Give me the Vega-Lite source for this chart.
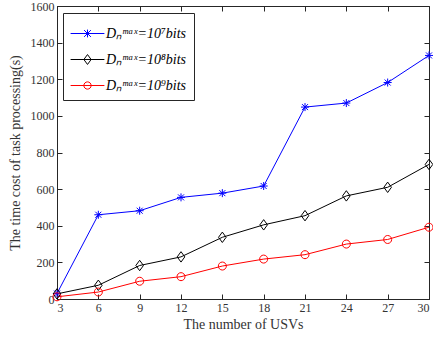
{
  "$schema": "https://vega.github.io/schema/vega-lite/v6.json",
  "width": 372,
  "height": 293,
  "autosize": {"type": "none"},
  "padding": {"left": 57, "top": 6, "right": 4, "bottom": 42},
  "background": "white",
  "config": {
    "view": {"stroke": "#262626", "strokeWidth": 1},
    "font": "Liberation Serif",
    "axis": {
      "grid": false,
      "domainColor": "#262626",
      "tickColor": "#262626",
      "labelColor": "#333333",
      "titleColor": "#333333",
      "labelFont": "Liberation Serif",
      "titleFont": "Liberation Serif",
      "labelFontSize": 12,
      "titleFontSize": 14,
      "titleFontWeight": "normal",
      "tickSize": -5,
      "labelPadding": 8,
      "format": "d"
    }
  },
  "data": {
    "values": [
      {"n": 3, "t": 30, "s": "a"},
      {"n": 6, "t": 460, "s": "a"},
      {"n": 9, "t": 482, "s": "a"},
      {"n": 12, "t": 555, "s": "a"},
      {"n": 15, "t": 578, "s": "a"},
      {"n": 18, "t": 617, "s": "a"},
      {"n": 21, "t": 1048, "s": "a"},
      {"n": 24, "t": 1070, "s": "a"},
      {"n": 27, "t": 1182, "s": "a"},
      {"n": 30, "t": 1330, "s": "a"},
      {"n": 3, "t": 28, "s": "b"},
      {"n": 6, "t": 75, "s": "b"},
      {"n": 9, "t": 183, "s": "b"},
      {"n": 12, "t": 230, "s": "b"},
      {"n": 15, "t": 337, "s": "b"},
      {"n": 18, "t": 405, "s": "b"},
      {"n": 21, "t": 455, "s": "b"},
      {"n": 24, "t": 563, "s": "b"},
      {"n": 27, "t": 610, "s": "b"},
      {"n": 30, "t": 735, "s": "b"},
      {"n": 3, "t": 12, "s": "c"},
      {"n": 6, "t": 38, "s": "c"},
      {"n": 9, "t": 97, "s": "c"},
      {"n": 12, "t": 122, "s": "c"},
      {"n": 15, "t": 180, "s": "c"},
      {"n": 18, "t": 218, "s": "c"},
      {"n": 21, "t": 242, "s": "c"},
      {"n": 24, "t": 300, "s": "c"},
      {"n": 27, "t": 325, "s": "c"},
      {"n": 30, "t": 392, "s": "c"}
    ]
  },
  "layer": [
    {
      "mark": {"type": "line", "strokeWidth": 1},
      "encoding": {
        "x": {
          "field": "n", "type": "quantitative",
          "scale": {"domain": [3, 30], "nice": false, "zero": false},
          "axis": {"values": [3, 6, 9, 12, 15, 18, 21, 24, 27, 30], "title": "The number of USVs", "titlePadding": 4}
        },
        "y": {
          "field": "t", "type": "quantitative",
          "scale": {"domain": [0, 1600], "nice": false},
          "axis": {"values": [0, 200, 400, 600, 800, 1000, 1200, 1400, 1600], "title": "The time cost of task processing(s)", "titlePadding": 8}
        },
        "color": {
          "field": "s", "type": "nominal",
          "scale": {"domain": ["a", "b", "c"], "range": ["#0000ff", "#000000", "#ff0000"]},
          "legend": {
            "orient": "none",
            "legendX": 6,
            "legendY": 7,
            "title": null,
            "strokeColor": "#262626",
            "fillColor": "white",
            "padding": 7,
            "symbolSize": 676,
            "symbolStrokeWidth": 1,
            "symbolOffset": 4,
            "labelFont": "Liberation Serif",
            "labelFontSize": 14,
            "labelFontStyle": "italic",
            "labelColor": "#000000",
            "labelOffset": 5,
            "rowPadding": 5,
            "labelExpr": "datum.value == 'a' ? 'Dₙᵐᵃˣ=10⁷bits' : datum.value == 'b' ? 'Dₙᵐᵃˣ=10⁸bits' : 'Dₙᵐᵃˣ=10⁹bits'",
            "encode": {
              "symbols": {
                "update": {
                  "shape": {"signal": "datum.value == 'a' ? 'M-1.3,0L1.3,0M0,-0.3L0,0.3M-0.26,-0.26L0.26,0.26M-0.26,0.26L0.26,-0.26' : datum.value == 'b' ? 'M-1.3,0L1.3,0M0,-0.38L0.28,0L0,0.38L-0.28,0Z' : 'M-1.3,0L1.3,0M0.28,0A0.28,0.28,0,1,1,-0.28,0A0.28,0.28,0,1,1,0.28,0'"},
                  "fill": {"value": "transparent"}
                }
              }
            }
          }
        }
      }
    },
    {
      "transform": [{"filter": "datum.s == 'a'"}],
      "mark": {"type": "point", "filled": false, "strokeWidth": 1, "size": 64, "opacity": 1, "color": "#0000ff",
        "shape": "M0,-1L0,1M-1,0L1,0M-0.75,-0.75L0.75,0.75M-0.75,0.75L0.75,-0.75"},
      "encoding": {
        "x": {"field": "n", "type": "quantitative", "axis": null},
        "y": {"field": "t", "type": "quantitative", "axis": null}
      }
    },
    {
      "transform": [{"filter": "datum.s == 'b'"}],
      "mark": {"type": "point", "filled": false, "strokeWidth": 1, "size": 64, "opacity": 1, "color": "#000000",
        "shape": "M0,-1.3L0.95,0L0,1.3L-0.95,0Z"},
      "encoding": {
        "x": {"field": "n", "type": "quantitative", "axis": null},
        "y": {"field": "t", "type": "quantitative", "axis": null}
      }
    },
    {
      "transform": [{"filter": "datum.s == 'c'"}],
      "mark": {"type": "point", "filled": false, "strokeWidth": 1, "size": 64, "opacity": 1, "color": "#ff0000",
        "shape": "M1,0A1,1,0,1,1,-1,0A1,1,0,1,1,1,0Z"},
      "encoding": {
        "x": {
          "field": "n", "type": "quantitative",
          "axis": {"orient": "top", "values": [3, 6, 9, 12, 15, 18, 21, 24, 27, 30], "labels": false, "domain": false, "title": null}
        },
        "y": {
          "field": "t", "type": "quantitative",
          "axis": {"orient": "right", "values": [0, 200, 400, 600, 800, 1000, 1200, 1400, 1600], "labels": false, "domain": false, "title": null}
        }
      }
    }
  ],
  "resolve": {"axis": {"x": "independent", "y": "independent"}}
}
